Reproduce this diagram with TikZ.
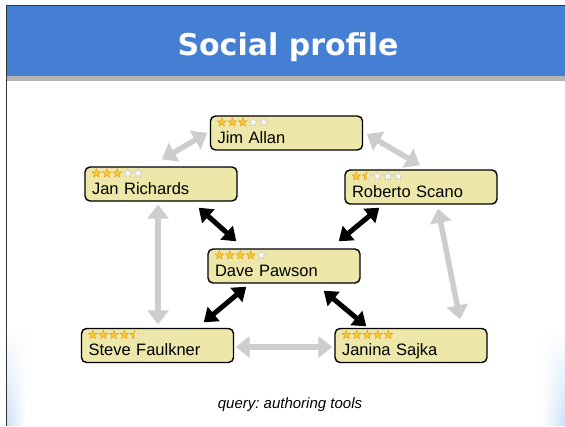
\documentclass[tikz,border=0pt]{standalone}
\usepackage{fontspec}
\setmainfont{Liberation Sans}
\newfontfamily\titlefont{DejaVu Sans}
\usetikzlibrary{arrows.meta,calc,fadings}
\frenchspacing

\definecolor{headblue}{RGB}{68,127,212}
\definecolor{bandgray}{RGB}{180,180,180}
\definecolor{boxfill}{RGB}{237,232,170}
\definecolor{stargold}{RGB}{250,202,50}
\definecolor{staredge}{RGB}{226,152,24}
\definecolor{staroffedge}{RGB}{195,195,195}
\definecolor{linkgray}{RGB}{205,205,205}
\definecolor{edgeblue}{RGB}{205,224,247}

% stars of a rating: node, number of full stars, index of a half star (0 = none)
\newcommand{\rating}[3]{%
  \foreach \i in {1,...,5}{%
    \ifnum\i>#2
      \ifnum\i=#3 \pic at ($(#1.north west)+(1.5+10.5*\i,7)$) {starhalf};%
      \else \pic at ($(#1.north west)+(1.5+10.5*\i,7)$) {staroff};\fi
    \else \pic at ($(#1.north west)+(1.5+10.5*\i,7)$) {staron};\fi
  }}

\begin{document}
\begin{tikzpicture}[x=1pt,y=-1pt,
  person/.style={draw=black,line width=1.4pt,fill=boxfill,rounded corners=5pt,
    text width=138pt,align=left,inner xsep=7pt,inner ysep=0pt,
    text height=27pt,text depth=7pt,font=\fontsize{16.5}{18}\selectfont},
  strong/.style={line width=5pt,{Triangle[length=13pt,width=18pt]}-{Triangle[length=13pt,width=18pt]}},
  weak/.style={linkgray,line width=5.5pt,{Triangle[length=14pt,width=21pt]}-{Triangle[length=14pt,width=21pt]}},
  staron/.pic={\path[fill=stargold,draw=staredge,line width=0.4pt] (-90:4.6)
    \foreach \a/\r in {-54/1.9,-18/4.6,18/1.9,54/4.6,90/1.9,126/4.6,162/1.9,198/4.6,234/1.9}{-- (\a:\r)} -- cycle;},
  staroff/.pic={\path[fill=white,draw=staroffedge,line width=0.4pt] (-90:4.6)
    \foreach \a/\r in {-54/1.9,-18/4.6,18/1.9,54/4.6,90/1.9,126/4.6,162/1.9,198/4.6,234/1.9}{-- (\a:\r)} -- cycle;},
  starhalf/.pic={\path[fill=white,draw=staroffedge,line width=0.4pt] (-90:4.6)
    \foreach \a/\r in {-54/1.9,-18/4.6,18/1.9,54/4.6,90/1.9,126/4.6,162/1.9,198/4.6,234/1.9}{-- (\a:\r)} -- cycle;
    \begin{scope}
      \clip (-5,-5) rectangle (0,5);
      \path[fill=stargold,draw=staredge,line width=0.4pt] (-90:4.6)
        \foreach \a/\r in {-54/1.9,-18/4.6,18/1.9,54/4.6,90/1.9,126/4.6,162/1.9,198/4.6,234/1.9}{-- (\a:\r)} -- cycle;
    \end{scope}}]
  \useasboundingbox (0,0) rectangle (565,426);
  \fill[white] (0,0) rectangle (565,426);
  % slide frame
  \shade[left color=edgeblue,right color=white,path fading=north] (7,330) rectangle (26,426);
  \shade[left color=white,right color=edgeblue,path fading=north] (542,330) rectangle (565,426);
  \fill[headblue] (7,5) rectangle (565,76);
  \fill[bandgray] (7,76) rectangle (565,81);
  \draw[headblue!45!black,line width=1pt] (6.5,5.5) -- (565,5.5);
  \draw[black!80,line width=1.3pt] (6.5,5) -- (6.5,426);
  \node[font=\titlefont\bfseries\fontsize{30}{34}\selectfont,text=white,anchor=base] (title) at (288,55) {Social profile};

  % people
  \node[person] (jim) at (286.5,133) {Jim Allan};
  \node[person] (jan) at (161,184) {Jan Richards};
  \node[person] (roberto) at (421,187) {Roberto Scano};
  \node[person] (dave) at (284,266) {Dave Pawson};
  \node[person] (steve) at (157.5,345.5) {Steve Faulkner};
  \node[person] (janina) at (411,345.5) {Janina Sajka};
  \rating{jim}{3}{0}
  \rating{jan}{3}{0}
  \rating{roberto}{1}{2}
  \rating{dave}{4}{0}
  \rating{steve}{4}{5}
  \rating{janina}{5}{0}

  % links
  \draw[weak] ($(jim.west)+(-2.5,0)$) -- ($(jan.north)+(1,-7)$);
  \draw[weak] ($(jim.east)+(3.5,1)$) -- ($(roberto.north)+(-1,-4)$);
  \draw[weak] ($(jan.south)+(-3,3)$) -- ($(steve.north)+(0.5,-3.5)$);
  \draw[weak] ($(roberto.south)+(17,4)$) -- ($(janina.north)+(49,-8.5)$);
  \draw[weak] ($(steve.east)+(1.5,1.5)$) -- ($(janina.west)+(-2,1.5)$);
  \draw[strong] ($(jan.south east)+(-39,6)$) -- ($(dave.north west)+(29,-7)$);
  \draw[strong] ($(roberto.south west)+(35,3)$) -- ($(dave.north east)+(-22,-7)$);
  \draw[strong] ($(dave.south west)+(39,3)$) -- ($(steve.north east)+(-30.5,-5.5)$);
  \draw[strong] ($(dave.south east)+(-37,7)$) -- ($(janina.north west)+(32,-1.5)$);

  \node[font=\itshape\fontsize{15}{18}\selectfont,anchor=base] (query) at (290,408) {query: authoring tools};
\end{tikzpicture}
\end{document}
